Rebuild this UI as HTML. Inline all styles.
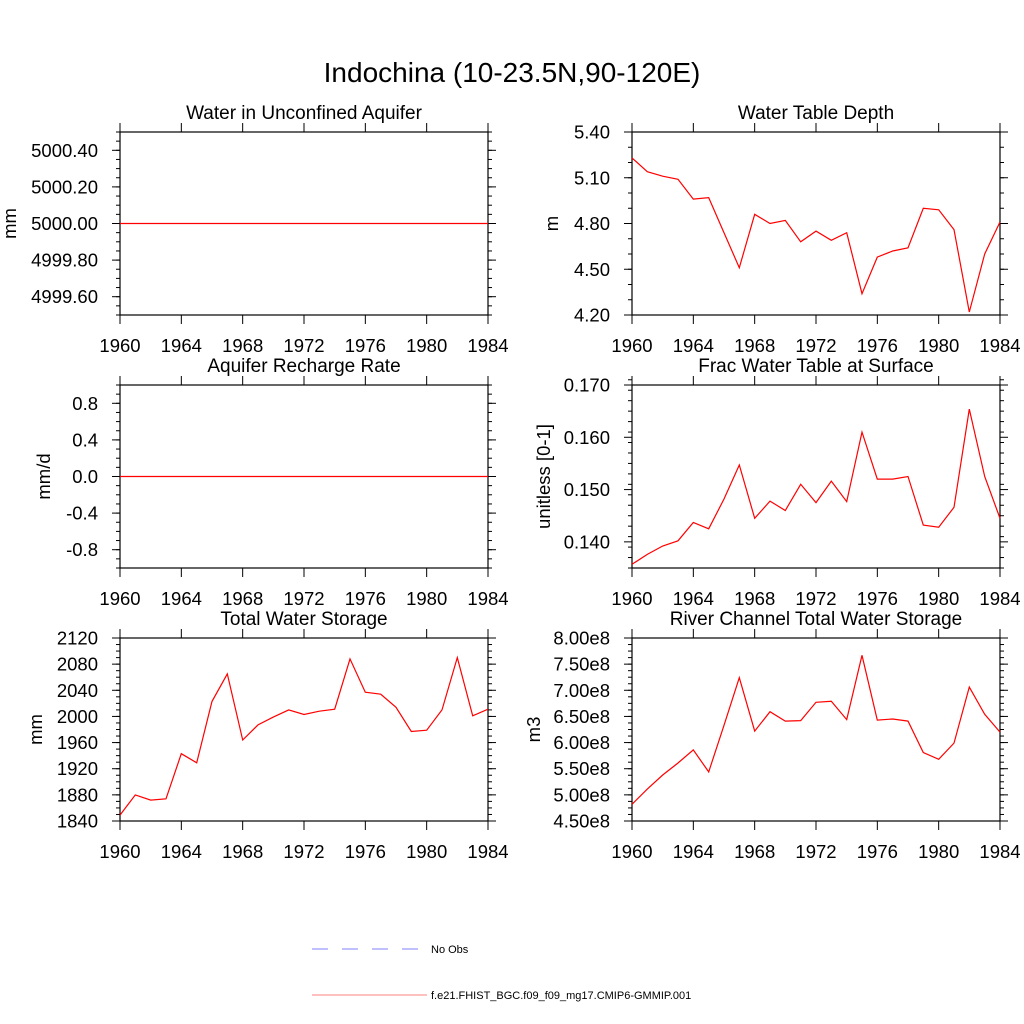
<!DOCTYPE html>
<html><head><meta charset="utf-8"><style>
html,body{margin:0;padding:0;background:#fff;}
svg{display:block;font-family:"Liberation Sans",sans-serif;}
</style></head><body>
<svg id="fig" width="1024" height="1024" viewBox="0 0 1024 1024">
<text x="512" y="82" text-anchor="middle" font-size="28">Indochina (10-23.5N,90-120E)</text>
<g>
<line x1="312" y1="949" x2="420" y2="949" stroke="#8080ff" stroke-width="1" stroke-dasharray="16,14"/>
<text x="431" y="953" font-size="11">No Obs</text>
<line x1="312" y1="995" x2="427" y2="995" stroke="#ff8080" stroke-width="1"/>
<text x="431" y="999" font-size="11">f.e21.FHIST_BGC.f09_f09_mg17.CMIP6-GMMIP.001</text>
</g>
</svg>
<script>
const years = [1960,1961,1962,1963,1964,1965,1966,1967,1968,1969,1970,1971,1972,1973,1974,1975,1976,1977,1978,1979,1980,1981,1982,1983,1984];
const xTicks = [1960,1964,1968,1972,1976,1980,1984];
const aquiferValues = [5000,5000,5000,5000,5000,5000,5000,5000,5000,5000,5000,5000,5000,5000,5000,5000,5000,5000,5000,5000,5000,5000,5000,5000,5000];
const aquiferTicks = [4999.6,4999.8,5000.0,5000.2,5000.4];
const wtdValues = [5.23,5.14,5.11,5.09,4.96,4.97,4.74,4.51,4.86,4.80,4.82,4.68,4.75,4.69,4.74,4.34,4.58,4.62,4.64,4.90,4.89,4.76,4.22,4.60,4.81];
const wtdTicks = [4.2,4.5,4.8,5.1,5.4];
const rechargeValues = [0,0,0,0,0,0,0,0,0,0,0,0,0,0,0,0,0,0,0,0,0,0,0,0,0];
const rechargeTicks = [-0.8,-0.4,0,0.4,0.8];
const fracValues = [0.1357,0.1376,0.1392,0.1402,0.1437,0.1425,0.1482,0.1547,0.1445,0.1478,0.1460,0.1510,0.1475,0.1516,0.1477,0.1610,0.1520,0.1520,0.1525,0.1432,0.1428,0.1466,0.1654,0.1525,0.1445];
const fracTicks = [0.14,0.15,0.16,0.17];
const twsValues = [1849,1880,1872,1874,1943,1929,2023,2065,1964,1987,1999,2010,2003,2008,2011,2088,2037,2034,2014,1977,1979,2010,2090,2001,2011];
const twsTicks = [1840,1880,1920,1960,2000,2040,2080,2120];
const riverValues = [4.82,5.11,5.38,5.61,5.86,5.44,6.33,7.24,6.22,6.59,6.41,6.42,6.77,6.79,6.44,7.67,6.43,6.45,6.41,5.81,5.68,5.99,7.06,6.54,6.20];
const riverTicks = [4.5,5.0,5.5,6.0,6.5,7.0,7.5,8.0];

const NS='http://www.w3.org/2000/svg';
const svg=document.getElementById('fig');
function mk(tag,attrs,parent){const e=document.createElementNS(NS,tag);for(const k in attrs)e.setAttribute(k,attrs[k]);(parent||svg).appendChild(e);return e;}

function panel(o){
  const g=mk('g',{});
  
  
  const L=o.x0,R=o.x1,T=o.y0,B=o.y1;
  const xs=v=>L+(v-1960)/(1984-1960)*(R-L);
  const ys=v=>B-(v-o.ymin)/(o.ymax-o.ymin)*(B-T);
  const t=mk('text',{x:(L+R)/2,y:T-13,'text-anchor':'middle','font-size':19},g);
  t.textContent=o.title;
  
  
  const yt=mk('text',{x:0,y:0,'text-anchor':'middle','font-size':18.5,transform:`translate(${o.ylabX},${(T+B)/2}) rotate(-90)`},g);
  yt.textContent=o.ylabel;
  
  
  const step=o.minor;
  const n=Math.round((o.ymax-o.ymin)/step);
  for(let i=0;i<=n;i++){
    const y=ys(o.ymin+i*step);
    mk('line',{x1:L-4,x2:L,y1:y,y2:y,stroke:'#000','stroke-width':1},g);
    mk('line',{x1:R,x2:R+4,y1:y,y2:y,stroke:'#000','stroke-width':1},g);
  }
  o.ticks.forEach(v=>{
    const y=ys(v);
    mk('line',{x1:L-8,x2:L,y1:y,y2:y,stroke:'#000','stroke-width':1},g);
    mk('line',{x1:R,x2:R+8,y1:y,y2:y,stroke:'#000','stroke-width':1},g);
    const lb=mk('text',{x:L-22,y:y+6.5,'text-anchor':'end','font-size':18.5},g);
    lb.textContent=o.fmt(v);
    
    
  });
  xTicks.forEach(v=>{
    const x=xs(v);
    mk('line',{x1:x,x2:x,y1:B,y2:B+9,stroke:'#000','stroke-width':1},g);
    mk('line',{x1:x,x2:x,y1:T-9,y2:T,stroke:'#000','stroke-width':1},g);
    const lb=mk('text',{x:x,y:B+37,'text-anchor':'middle','font-size':18.5},g);
    lb.textContent=String(v);
    
    
  });
  const fr=mk('rect',{x:L,y:T,width:R-L,height:B-T,fill:'none',stroke:'#000','stroke-width':1.2},g);
  
  
  const pts=o.vals.map((v,i)=>xs(years[i]).toFixed(1)+','+ys(v).toFixed(1)).join(' ');
  const pl=mk('polyline',{points:pts,fill:'none',stroke:'#ff0000','stroke-width':1.2},g);
  
  
}
const LX0=120,LX1=488,RX0=632,RX1=1000;
panel({name:'aquifer-water',title:'Water in Unconfined Aquifer',ylabel:'mm',ylabX:16,x0:LX0,x1:LX1,y0:132,y1:315,ymin:4999.5,ymax:5000.5,ticks:aquiferTicks,minor:0.05,vals:aquiferValues,fmt:v=>v.toFixed(2)});
panel({name:'water-table-depth',title:'Water Table Depth',ylabel:'m',ylabX:558,x0:RX0,x1:RX1,y0:132,y1:315,ymin:4.2,ymax:5.4,ticks:wtdTicks,minor:0.1,vals:wtdValues,fmt:v=>v.toFixed(2)});
panel({name:'aquifer-recharge',title:'Aquifer Recharge Rate',ylabel:'mm/d',ylabX:50,x0:LX0,x1:LX1,y0:385,y1:568,ymin:-1,ymax:1,ticks:rechargeTicks,minor:0.1,vals:rechargeValues,fmt:v=>v.toFixed(1)});
panel({name:'frac-water-table',title:'Frac Water Table at Surface',ylabel:'unitless [0-1]',ylabX:550,x0:RX0,x1:RX1,y0:385,y1:568,ymin:0.135,ymax:0.17,ticks:fracTicks,minor:0.002,vals:fracValues,fmt:v=>v.toFixed(3)});
panel({name:'total-water-storage',title:'Total Water Storage',ylabel:'mm',ylabX:42,x0:LX0,x1:LX1,y0:638,y1:821,ymin:1840,ymax:2120,ticks:twsTicks,minor:10,vals:twsValues,fmt:v=>String(v)});
panel({name:'river-channel-storage',title:'River Channel Total Water Storage',ylabel:'m3',ylabX:540,x0:RX0,x1:RX1,y0:638,y1:821,ymin:4.5,ymax:8.0,ticks:riverTicks,minor:0.125,vals:riverValues,fmt:v=>v.toFixed(2)+'e8'});
</script>
</body></html>
